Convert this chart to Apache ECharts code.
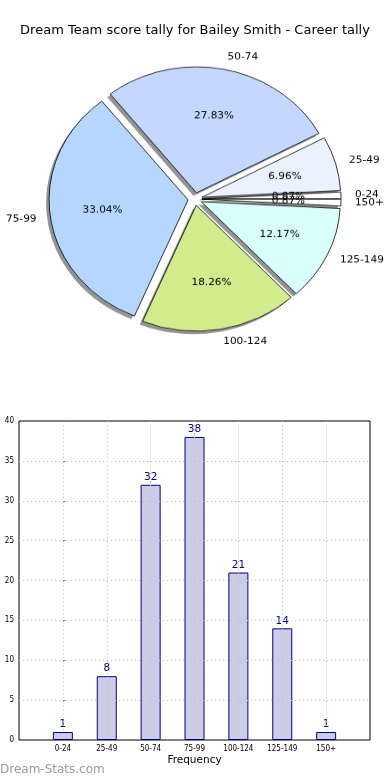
<!DOCTYPE html>
<html><head><meta charset="utf-8">
<script src="https://cdn.jsdelivr.net/npm/echarts@6/dist/echarts.min.js"></script>
<style>
html,body{margin:0;padding:0;background:#fff;}
#main{position:absolute;left:0;top:0;width:390px;height:780px;}
#pie{position:absolute;left:0;top:0;width:390px;height:400px;transform-origin:195px 199px;transform:scaleY(0.906);}
</style></head><body>
<div id="main"></div><div id="pie"></div>
<script>
const chartTitle = 'Dream Team score tally for Bailey Smith - Career tally';
const categories = ['0-24', '25-49', '50-74', '75-99', '100-124', '125-149', '150+'];
const frequencies = [1, 8, 32, 38, 21, 14, 1];
const sliceColors = ['#ffffff', '#eaf1ff', '#c4d8ff', '#b4d6ff', '#d0ec8c', '#daffff', '#ffffff'];
const xAxisName = 'Frequency';
const watermark = 'Dream-Stats.com';

const total = frequencies.reduce((a, b) => a + b, 0);
const R = 139;
const FONT = 'DejaVu Sans';
const NARROW = '"Liberation Sans Narrow", "DejaVu Sans Condensed", "DejaVu Sans"';

const pieChart = echarts.init(document.getElementById('pie'), null, {renderer: 'canvas'});
const noShadow = {shadowBlur: 0, shadowOffsetX: 0, shadowOffsetY: 0, shadowColor: 'rgba(0,0,0,0)'};
const sliceData = categories.map((c, i) => ({
  name: c, value: frequencies[i], selected: true,
  itemStyle: {color: sliceColors[i]}
}));
const shadowData = categories.map((c, i) => ({
  name: c, value: frequencies[i], selected: true,
  itemStyle: Object.assign({color: 'rgba(0,0,0,0.42)', borderWidth: 0}, noShadow)
}));
const pctData = categories.map((c, i) => ({
  name: c, value: frequencies[i], selected: true,
  itemStyle: Object.assign({color: 'rgba(0,0,0,0)', borderWidth: 0}, noShadow)
}));
const commonPie = {
  type: 'pie', center: [195, 199], clockwise: false, startAngle: 0,
  selectedMode: 'multiple', selectedOffset: 7, avoidLabelOverlap: false,
  labelLayout: {hideOverlap: false, moveOverlap: null},
  animation: false, emphasis: {disabled: true}
};
pieChart.setOption({
  backgroundColor: 'transparent',
  series: [
    Object.assign({}, commonPie, {
      center: [192, 202.3], radius: [0, R], z: 1, silent: true,
      label: {show: false}, labelLine: {show: false},
      data: shadowData
    }),
    Object.assign({}, commonPie, {
      radius: [0, R], z: 2,
      itemStyle: Object.assign({borderColor: '#000', borderWidth: 0.8}, noShadow),
      select: {itemStyle: {borderColor: '#000', borderWidth: 0.8}},
      label: {show: true, position: 'outside', formatter: '{b}', fontSize: 10.5, color: '#000', fontFamily: FONT, distanceToLabelLine: 0},
      labelLine: {show: false, length: 14, length2: 0},
      data: sliceData
    }),
    Object.assign({}, commonPie, {
      radius: [0.2 * R, R], z: 5, silent: true,
      label: {show: true, position: 'inside', fontSize: 10.5, color: '#000', fontFamily: FONT,
        formatter: p => (p.value / total * 100).toFixed(2) + '%'},
      labelLine: {show: false},
      data: pctData
    })
  ]
});

const mainChart = echarts.init(document.getElementById('main'), null, {renderer: 'canvas'});
const dotted = {color: '#c4c4c4', type: [1.2, 2.8], width: 1};
mainChart.setOption({
  backgroundColor: '#fff',
  animation: false,
  title: {text: chartTitle, left: 'center', top: 19,
    textStyle: {fontSize: 13, fontWeight: 'normal', fontFamily: FONT, color: '#000'}},
  grid: {left: 19, right: 20, top: 421, bottom: 40, show: true, borderColor: '#000', borderWidth: 1, backgroundColor: 'transparent'},
  xAxis: {
    type: 'value', min: -1, max: 7, interval: 1, z: 3,
    axisLine: {show: false},
    axisTick: {show: false},
    splitLine: {show: true, lineStyle: dotted, showMinLine: false, showMaxLine: false},
    axisLabel: {formatter: v => (categories[v] !== undefined ? categories[v] : ''), fontSize: 8, fontFamily: NARROW, color: '#000', margin: 5},
    name: xAxisName, nameLocation: 'middle', nameGap: 15,
    nameTextStyle: {fontSize: 10.5, fontFamily: FONT, color: '#000'}
  },
  yAxis: {
    type: 'value', min: 0, max: 40, interval: 5, z: 3,
    axisLine: {show: false},
    axisTick: {show: true, inside: true, length: 3, lineStyle: {color: '#888'}},
    splitLine: {show: true, lineStyle: dotted, showMinLine: false, showMaxLine: false},
    axisLabel: {fontSize: 8, fontFamily: NARROW, color: '#000', margin: 5}
  },
  series: [{
    type: 'bar', barWidth: 20,
    data: frequencies.map((v, i) => [i, v]),
    itemStyle: {color: '#ccccE6', borderColor: '#000080', borderWidth: 1},
    label: {show: true, position: 'top', distance: 2, color: '#000080', fontSize: 10.5, fontFamily: FONT,
      formatter: p => String(p.value[1])}
  }],
  graphic: [{type: 'text', left: 0, top: 764, style: {text: watermark, fontSize: 12, fontFamily: FONT, fill: '#9a9a9a'}}]
});
</script></body></html>
